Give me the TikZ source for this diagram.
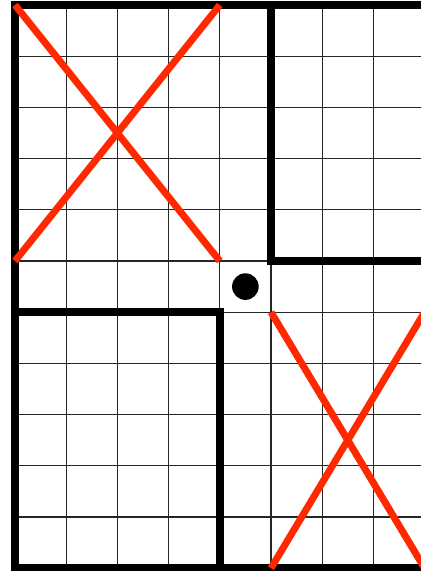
\documentclass[tikz,border=0pt]{standalone}
\definecolor{xred}{RGB}{255,40,0}
\begin{document}
\begin{tikzpicture}[x=1cm,y=1cm,
  gridline/.style={line width=0.75pt,draw=black!85},
  wall/.style={line width=4.2pt,draw=black},
  cross/.style={line width=3.9pt,draw=xred}]
\useasboundingbox (-0.293,-0.055) rectangle (7.93,11.098);
\clip (-0.293,-0.055) rectangle (7.93,11.098);
\fill[white] (-0.293,-0.055) rectangle (7.93,11.098);
\draw[gridline] (0,0) grid (9,11);
% walls
\draw[wall] (9,11) -- (0,11) -- (0,0) -- (9,0);
\draw[wall] (5,11) -- (5,6) -- (9,6);
\draw[wall] (0,5) -- (4,5) -- (4,0);
% red crosses
\draw[cross] (0,11) -- (4,6);
\draw[cross] (4,11) -- (0,6);
\draw[cross] (5,5) -- (8,0);
\draw[cross] (5,0) -- (8,5);
% dot
\node[circle,fill=black,inner sep=0pt,minimum size=0.52cm] (dot) at (4.5,5.5) {};
\end{tikzpicture}
\end{document}
